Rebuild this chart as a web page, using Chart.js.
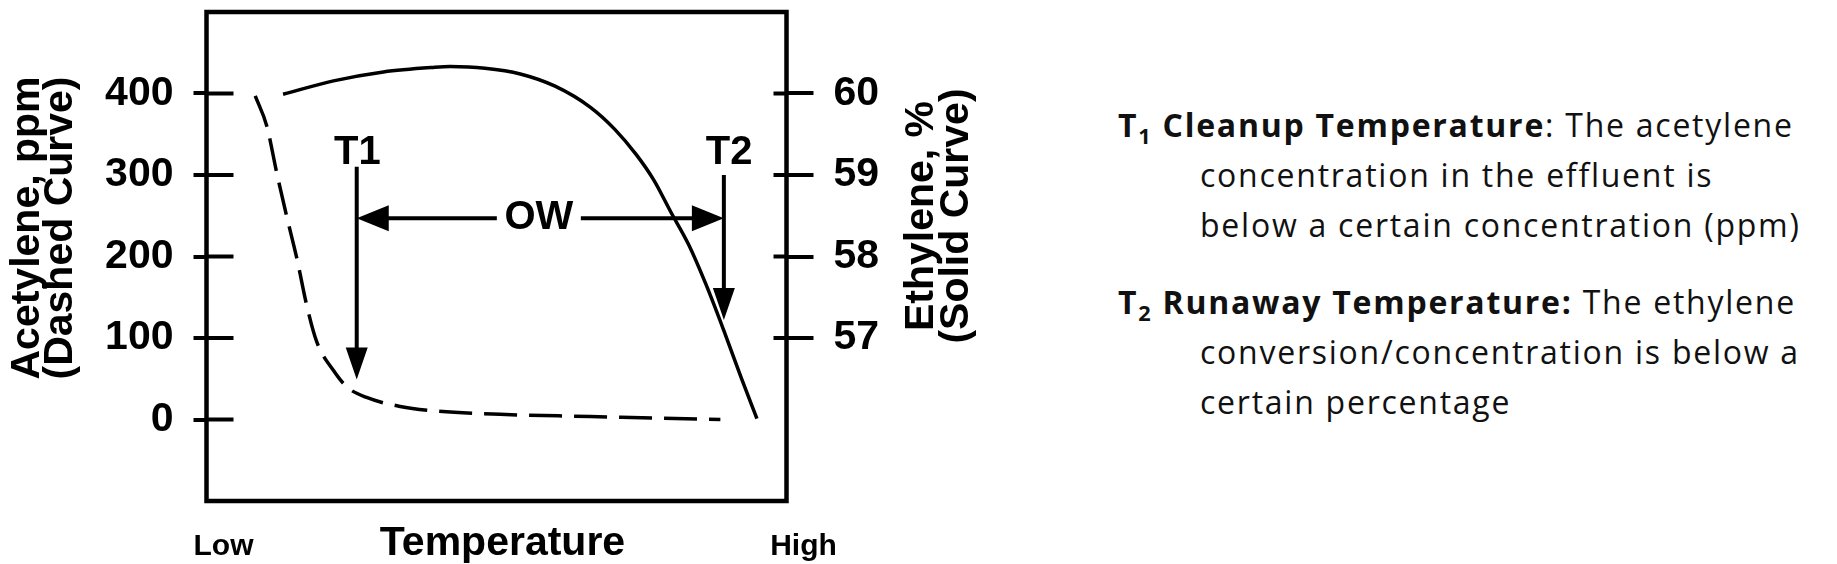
<!DOCTYPE html>
<html><head><meta charset="utf-8">
<script src="https://cdn.jsdelivr.net/npm/chart.js@4.4.1/dist/chart.umd.min.js"></script>
<style>
html,body{margin:0;padding:0;background:#fff;width:1837px;height:564px;overflow:hidden}
#chartBox{position:absolute;left:0;top:0;width:1000px;height:564px}
#notes{position:absolute;left:1118px;top:99.6px;font-family:'Open Sans',sans-serif;font-size:32px;line-height:50px;letter-spacing:1.75px;color:#111;white-space:nowrap}
#notes p{padding-left:82px;text-indent:-82px;margin:0}
#notes p.second{margin-top:27px}
#notes b{font-weight:700}
#notes sub{font-size:0.68em;vertical-align:-0.3em;line-height:0}
</style></head>
<body>
<div id="chartBox"><canvas id="c" width="1000" height="564"></canvas></div>
<div id="notes">
<p><b>T<sub>1</sub> Cleanup Temperature</b>: The acetylene<br>concentration in the effluent is<br>below a certain concentration (ppm)</p>
<p class="second"><b>T<sub>2</sub> Runaway Temperature:</b> The ethylene<br>conversion/concentration is below a<br>certain percentage</p>
</div>
<script>
// ---- data ----
const xTickValues = [0, 100];
const xTickLabels = ['Low', 'High'];
const acetyleneTicks = [0, 100, 200, 300, 400];
const ethyleneTicks = [57, 58, 59, 60];

const acetyleneTemp = [8.4, 10.4, 12.1, 13.8, 15.6, 17.3, 19.0, 21.9, 24.2, 27.6, 33.4, 39.1, 50.6, 66.2, 78.3, 88.6];
const acetylenePpm  = [397, 360, 303, 250, 197, 139.5, 95.5, 60, 40, 27, 16, 10.7, 6.3, 3.7, 1.5, 0];

const ethyleneTemp = [13.2, 21.9, 30.5, 39.1, 42.0, 48.0, 54.1, 60.1, 66.2, 70.4, 74.1, 77.1, 80.1, 83.1, 86.1, 89.2, 92.2, 94.9];
const ethylenePct  = [59.99, 60.155, 60.265, 60.32, 60.33, 60.31, 60.24, 60.09, 59.83, 59.56, 59.25, 58.94, 58.54, 58.15, 57.66, 57.09, 56.51, 56.01];

// annotation values (temperature axis / acetylene-ppm axis)
const markerNames = ['T1', 'T2'];
const markerTemps = [25.9, 89.2];
const markerLabelTemps = [26.0, 90.1];
const markerArrowTop = [310, 300];
const markerArrowTip = [49, 122];
const markerLabelLevel = 313;
const owName = 'OW';
const owLevel = 247;
const owLabelTemp = 57.3;

const leftTitle = ['Acetylene, ppm', '(Dashed Curve)'];
const rightTitle = ['Ethylene, %', '(Solid Curve)'];
const xTitle = 'Temperature';

const FAM = '"Liberation Sans", Arial, sans-serif';

const decor = {
  id: 'decor',
  afterDatasetsDraw(chart) {
    const {ctx, chartArea: a, scales: {x, y, y2}} = chart;
    ctx.save();
    ctx.strokeStyle = '#000'; ctx.fillStyle = '#000';
    ctx.lineCap = 'butt';
    const line = (x1, y1, x2, y2_) => { ctx.beginPath(); ctx.moveTo(x1, y1); ctx.lineTo(x2, y2_); ctx.stroke(); };
    // frame
    ctx.lineWidth = 4.5;
    ctx.strokeRect(a.left, a.top, a.right - a.left, a.bottom - a.top);
    // inner tick parts
    ctx.lineWidth = 4;
    y.ticks.forEach(t => { const p = y.getPixelForValue(t.value); line(a.left, p, a.left + 27, p); });
    y2.ticks.forEach(t => { const p = y2.getPixelForValue(t.value); line(a.right - 13, p, a.right, p); });
    // arrows
    const HL = 32, HW = 11;
    ctx.lineWidth = 4;
    markerTemps.forEach((t, i) => {
      const px = x.getPixelForValue(t);
      const top = y.getPixelForValue(markerArrowTop[i]);
      const tip = y.getPixelForValue(markerArrowTip[i]);
      line(px, top, px, tip - HL + 2);
      ctx.beginPath(); ctx.moveTo(px - HW, tip - HL); ctx.lineTo(px + HW, tip - HL); ctx.lineTo(px, tip); ctx.closePath(); ctx.fill();
    });
    const oy = y.getPixelForValue(owLevel);
    const xl = x.getPixelForValue(markerTemps[0]);
    const xr = x.getPixelForValue(markerTemps[1]);
    const ox = x.getPixelForValue(owLabelTemp);
    line(xl + HL - 2, oy, ox - 42, oy);
    line(ox + 42, oy, xr - HL + 2, oy);
    ctx.beginPath(); ctx.moveTo(xl, oy); ctx.lineTo(xl + HL, oy - 13); ctx.lineTo(xl + HL, oy + 13); ctx.closePath(); ctx.fill();
    ctx.beginPath(); ctx.moveTo(xr, oy); ctx.lineTo(xr - HL, oy - 13); ctx.lineTo(xr - HL, oy + 13); ctx.closePath(); ctx.fill();
    // labels
    ctx.font = 'bold 40px ' + FAM;
    ctx.textAlign = 'center';
    ctx.textBaseline = 'alphabetic';
    markerNames.forEach((n, i) => ctx.fillText(n, x.getPixelForValue(markerLabelTemps[i]), y.getPixelForValue(markerLabelLevel)));
    ctx.textBaseline = 'middle';
    ctx.fillText(owName, ox, oy);
    // axis titles (rotated, reading upward)
    ctx.font = 'bold 41px ' + FAM;
    const drawTitle = (lines, cx, cy, gap) => {
      ctx.save(); ctx.translate(cx, cy); ctx.rotate(-Math.PI / 2);
      ctx.textAlign = 'center'; ctx.textBaseline = 'middle';
      lines.forEach((l, i) => ctx.fillText(l, 0, i * gap));
      ctx.restore();
    };
    drawTitle(leftTitle, 27.6, 228, 33);
    drawTitle(rightTitle, 921.6, 216, 35);
    // x-axis title
    ctx.textAlign = 'center'; ctx.textBaseline = 'alphabetic';
    ctx.fillText(xTitle, (a.left + a.right) / 2 + 6, 555);
    ctx.restore();
  }
};

const noPad = s => { s.paddingTop = 0; s.paddingBottom = 0; s.paddingLeft = 0; s.paddingRight = 0; };

new Chart(document.getElementById('c'), {
  type: 'line',
  data: {
    datasets: [
      {
        label: 'Acetylene, ppm (Dashed Curve)',
        data: acetyleneTemp.map((t, i) => ({x: t, y: acetylenePpm[i]})),
        yAxisID: 'y', borderColor: '#000', borderWidth: 3.5, borderDash: [33, 12],
        pointRadius: 0, cubicInterpolationMode: 'monotone', fill: false
      },
      {
        label: 'Ethylene, % (Solid Curve)',
        data: ethyleneTemp.map((t, i) => ({x: t, y: ethylenePct[i]})),
        yAxisID: 'y2', borderColor: '#000', borderWidth: 3.5,
        pointRadius: 0, cubicInterpolationMode: 'monotone', fill: false
      }
    ]
  },
  options: {
    responsive: false, animation: false, devicePixelRatio: 1,
    layout: {padding: {top: 12, left: 0, right: 0, bottom: 0}},
    plugins: {legend: {display: false}, tooltip: {enabled: false}},
    scales: {
      x: {
        type: 'linear', min: 0, max: 100, position: 'bottom',
        afterBuildTicks: s => { s.ticks = xTickValues.map(v => ({value: v})); },
        ticks: {autoSkip: false, maxRotation: 0, color: '#000', padding: 20, labelOffset: 17,
          font: {family: FAM, size: 30, weight: 'bold'},
          callback: (v, i) => xTickLabels[i]},
        grid: {display: false}, border: {display: false},
        title: {display: false},
        afterFit: s => { s.height = 63; noPad(s); }
      },
      y: {
        position: 'left', min: -100, max: 500,
        afterBuildTicks: s => { s.ticks = acetyleneTicks.map(v => ({value: v})); },
        ticks: {color: '#000', padding: 20, font: {family: FAM, size: 41, weight: 'bold'}},
        grid: {display: true, drawOnChartArea: false, drawTicks: true, tickLength: 13, lineWidth: 4, color: '#000'},
        border: {display: false},
        afterFit: s => { s.width = 206.5; noPad(s); }
      },
      y2: {
        position: 'right', min: 55, max: 61,
        afterBuildTicks: s => { s.ticks = ethyleneTicks.map(v => ({value: v})); },
        ticks: {color: '#000', padding: 20, font: {family: FAM, size: 41, weight: 'bold'}},
        grid: {display: true, drawOnChartArea: false, drawTicks: true, tickLength: 27, lineWidth: 4, color: '#000'},
        border: {display: false},
        afterFit: s => { s.width = 1000 - 786.5; noPad(s); }
      }
    }
  },
  plugins: [decor]
});
</script>
</body></html>
